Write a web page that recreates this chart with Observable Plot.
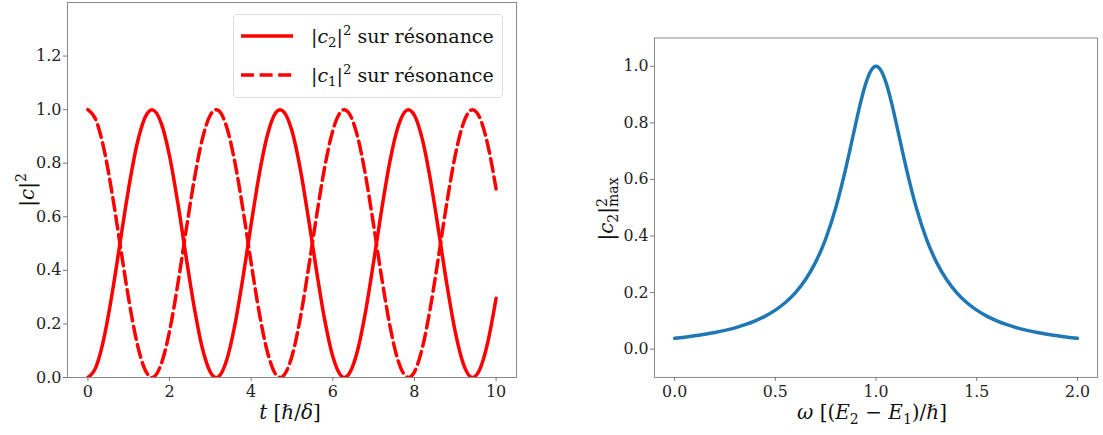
<!DOCTYPE html>
<html><head><meta charset="utf-8">
<script src="https://cdn.jsdelivr.net/npm/d3@7"></script>
<script src="https://cdn.jsdelivr.net/npm/@observablehq/plot@0.6"></script>
<style>
body{margin:0;background:#fff;overflow:hidden;font-family:"DejaVu Serif","Liberation Serif",serif;}
#wrap{position:relative;width:1103px;height:435px;overflow:hidden;background:#fff;}
.p{position:absolute;top:0;}
.lab{position:absolute;font-size:20px;color:#111;white-space:nowrap;line-height:1;}
.lab sub,.lab sup,.leg sub,.leg sup{font-size:0.7em;line-height:0;}
.ss{display:inline-block;vertical-align:-0.35em;line-height:0.8;font-size:0.7em;}
.ss span{display:block;}
.leg{position:absolute;left:233px;top:14px;width:270px;height:84px;border:1px solid #ddd;border-radius:5px;background:rgba(255,255,255,0.8);box-sizing:border-box;}
.leg .row{position:absolute;left:77px;font-size:19px;color:#111;white-space:nowrap;line-height:1;transform:translateY(-50%);}
</style></head>
<body><div id="wrap"></div>
<script>
// Left panel: Rabi oscillations on resonance
const t  = [0,0.2,0.4,0.6,0.8,1.0,1.2,1.4,1.57,1.8,2.0,2.2,2.4,2.6,2.8,3.0,3.14,3.2,3.4,3.6,3.8,4.0,4.2,4.4,4.6,4.71,4.8,5.0,5.2,5.4,5.6,5.8,6.0,6.2,6.28,6.4,6.6,6.8,7.0,7.2,7.4,7.6,7.85,8.0,8.2,8.4,8.6,8.8,9.0,9.2,9.42,9.6,9.8,10.0];
const c2 = [0,0.040,0.152,0.319,0.515,0.708,0.869,0.971,1.000,0.948,0.827,0.654,0.456,0.266,0.112,0.020,0.000,0.003,0.065,0.196,0.374,0.573,0.760,0.906,0.988,1.000,0.992,0.920,0.781,0.597,0.399,0.216,0.078,0.007,0.000,0.014,0.097,0.244,0.432,0.630,0.808,0.937,1.000,0.979,0.885,0.730,0.539,0.342,0.170,0.050,0.000,0.030,0.134,0.296];
const c1 = [1,0.960,0.848,0.681,0.485,0.292,0.131,0.029,0.000,0.052,0.173,0.346,0.544,0.734,0.888,0.980,1.000,0.997,0.935,0.804,0.626,0.427,0.240,0.094,0.012,0.000,0.008,0.080,0.219,0.403,0.601,0.784,0.922,0.993,1.000,0.986,0.903,0.756,0.568,0.370,0.192,0.063,0.000,0.021,0.115,0.270,0.461,0.658,0.830,0.950,1.000,0.970,0.866,0.704];
const leftXTicks = [0,2,4,6,8,10];
const leftYTicks = [0,0.2,0.4,0.6,0.8,1.0,1.2];

// Right panel: resonance curve
const omega = [0,0.05,0.1,0.15,0.2,0.25,0.3,0.35,0.4,0.45,0.5,0.55,0.6,0.65,0.7,0.75,0.8,0.85,0.875,0.9,0.925,0.95,0.975,1.0,1.025,1.05,1.075,1.1,1.125,1.15,1.2,1.25,1.3,1.35,1.4,1.45,1.5,1.55,1.6,1.65,1.7,1.75,1.8,1.85,1.9,1.95,2.0];
const c2max = [0.0385,0.0424,0.0471,0.0525,0.0588,0.0664,0.0755,0.0865,0.100,0.1168,0.1379,0.1649,0.200,0.2462,0.3077,0.3902,0.500,0.640,0.7191,0.800,0.8767,0.9412,0.9846,1.000,0.9846,0.9412,0.8767,0.800,0.7191,0.640,0.500,0.3902,0.3077,0.2462,0.200,0.1649,0.1379,0.1168,0.100,0.0865,0.0755,0.0664,0.0588,0.0525,0.0471,0.0424,0.0385];
const rightXTicks = [0,0.5,1.0,1.5,2.0];
const rightYTicks = [0,0.2,0.4,0.6,0.8,1.0];

const wrap = document.getElementById("wrap");
const rowsL = t.map((v,i)=>({t:v,c2:c2[i],c1:c1[i]}));
const rowsR = omega.map((v,i)=>({w:v,y:c2max[i]}));
const fmt1 = d3.format(".1f");
const axisStyle = {tickSize:4, stroke:"#777", fill:"#222"};
const svgStyle = {fontFamily:"'DejaVu Serif', 'Liberation Serif', serif", fontSize:"16px", background:"transparent", overflow:"visible"};

const left = Plot.plot({
  width:560, height:435,
  marginLeft:67, marginRight:44, marginTop:2, marginBottom:58,
  style: svgStyle,
  x:{domain:[-0.5,10.5]},
  y:{domain:[0,1.4]},
  marks:[
    Plot.line(rowsL,{x:"t",y:"c2",stroke:"#ff0000",strokeWidth:3.5,curve:"monotone-x",clip:true}),
    Plot.line(rowsL,{x:"t",y:"c1",stroke:"#ff0000",strokeWidth:3.5,strokeDasharray:"13,5.6",curve:"monotone-x",clip:true}),
    Plot.frame({stroke:"#888"}),
    Plot.axisX({...axisStyle, ticks:leftXTicks, tickPadding:4, label:null}),
    Plot.axisY({...axisStyle, ticks:leftYTicks, tickFormat:fmt1, tickPadding:2, label:null})
  ]
});
const ldiv = document.createElement("div"); ldiv.className="p"; ldiv.style.left="0px";
ldiv.appendChild(left); wrap.appendChild(ldiv);

const right = Plot.plot({
  width:530, height:435,
  marginLeft:75, marginRight:6, marginTop:38, marginBottom:53,
  style: svgStyle,
  x:{domain:[-0.1,2.1]},
  y:{domain:[-0.1,1.1]},
  marks:[
    Plot.line(rowsR,{x:"w",y:"y",stroke:"#1f77b4",strokeWidth:3.5,curve:"monotone-x",clip:true}),
    Plot.frame({stroke:"#888"}),
    Plot.axisX({...axisStyle, ticks:rightXTicks, tickFormat:fmt1, tickPadding:4, label:null}),
    Plot.axisY({...axisStyle, ticks:rightYTicks, tickFormat:fmt1, tickPadding:2, label:null})
  ]
});
const rdiv = document.createElement("div"); rdiv.className="p"; rdiv.style.left="580px";
rdiv.appendChild(right); wrap.appendChild(rdiv);

function addLabel(html, x, y, rot){
  const d = document.createElement("div");
  d.className = "lab"; d.innerHTML = html;
  d.style.left = x+"px"; d.style.top = y+"px";
  d.style.transform = "translate(-50%,-50%)" + (rot ? " rotate(-90deg)" : "");
  wrap.appendChild(d);
}
addLabel("|<i>c</i>|<sup>2</sup>", 27, 190, true);
addLabel("<i>t</i> [ℏ/<i>δ</i>]", 290, 412, false);
addLabel("|<i>c</i><sub>2</sub>|<span class='ss'><span>2</span><span>max</span></span>", 608, 209, true);
addLabel("<i>ω</i> [(<i>E</i><sub>2</sub> − <i>E</i><sub>1</sub>)/ℏ]", 872, 412, false);

// legend
const legendLabels = ["|<i>c</i><sub>2</sub>|<sup>2</sup> sur résonance", "|<i>c</i><sub>1</sub>|<sup>2</sup> sur résonance"];
const legendDash = [null, "13,5.6"];
const leg = document.createElement("div"); leg.className="leg";
const ns = "http://www.w3.org/2000/svg";
const lsvg = document.createElementNS(ns,"svg");
lsvg.setAttribute("width","270"); lsvg.setAttribute("height","84");
lsvg.style.position="absolute"; lsvg.style.left="-1px"; lsvg.style.top="-1px";
legendLabels.forEach((lab,i)=>{
  const cy = 22 + i*39;
  const ln = document.createElementNS(ns,"line");
  ln.setAttribute("x1",8); ln.setAttribute("x2",60);
  ln.setAttribute("y1",cy); ln.setAttribute("y2",cy);
  ln.setAttribute("stroke","#ff0000"); ln.setAttribute("stroke-width","3.5");
  if (legendDash[i]) ln.setAttribute("stroke-dasharray", legendDash[i]);
  lsvg.appendChild(ln);
  const r = document.createElement("div"); r.className="row"; r.innerHTML = lab;
  r.style.top = (cy-1)+"px";
  leg.appendChild(r);
});
leg.appendChild(lsvg);
wrap.appendChild(leg);
</script>
</body></html>
